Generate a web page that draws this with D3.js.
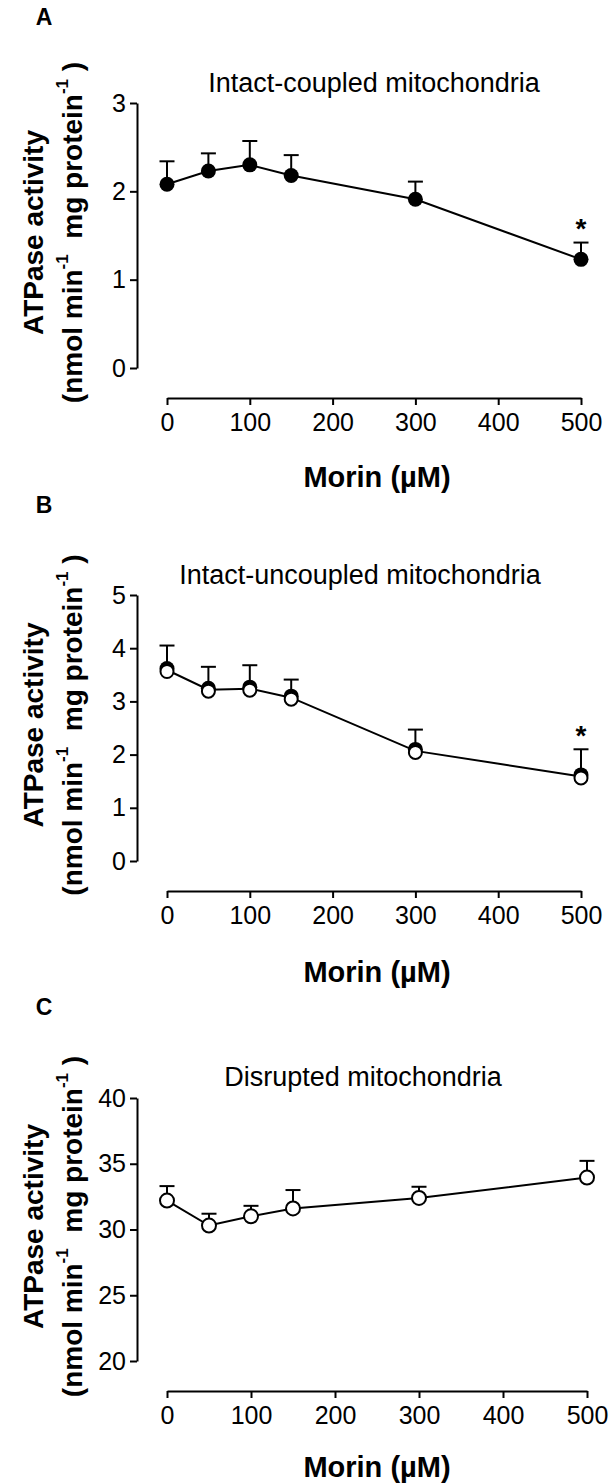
<!DOCTYPE html>
<html lang="en">
<head>
<meta charset="utf-8">
<title>Morin ATPase activity</title>
<script src="https://d3js.org/d3.v7.min.js"></script>
<style>
  body { margin: 0; background: #fff; }
  svg text { font-family: "Liberation Sans", Arial, sans-serif; fill: #000; }
</style>
</head>
<body>
<script>
// Morin concentrations (µM)
var doses = [0, 50, 100, 150, 300, 500];
var xTicks = [0, 100, 200, 300, 400, 500];

// A: intact-coupled
var coupledMean = [2.08, 2.23, 2.30, 2.18, 1.91, 1.23];
var coupledSem  = [0.26, 0.20, 0.27, 0.23, 0.20, 0.19];
var coupledStar = [false, false, false, false, false, true];
var yTicksA = [0, 1, 2, 3];

// B: intact-uncoupled
var uncoupledMean = [3.59, 3.22, 3.24, 3.07, 2.07, 1.59];
var uncoupledSem  = [0.46, 0.43, 0.44, 0.34, 0.40, 0.51];
var uncoupledStar = [false, false, false, false, false, true];
var yTicksB = [0, 1, 2, 3, 4, 5];

// C: disrupted
var disruptedMean = [32.2, 30.3, 31.0, 31.6, 32.4, 33.95];
var disruptedSem  = [1.1, 0.9, 0.8, 1.4, 0.85, 1.27];
var disruptedStar = [false, false, false, false, false, false];
var yTicksC = [20, 25, 30, 35, 40];

var svg = d3.select("body").append("svg")
    .attr("width", 610)
    .attr("height", 1484);

function drawPanel(p) {
    var x = d3.scaleLinear().domain([0, 500]).range([167, p.xRight]);
    var y = d3.scaleLinear().domain(p.yDomain).range(p.yRange);
    var g = svg.append("g");

    // panel letter
    g.append("text").attr("x", 44).attr("y", p.letterY)
        .attr("text-anchor", "middle").attr("dominant-baseline", "central")
        .style("font-size", "23px").style("font-weight", "bold")
        .text(p.letter);

    // title
    g.append("text").attr("x", p.titleX).attr("y", p.titleY)
        .attr("text-anchor", "middle").attr("dominant-baseline", "central")
        .style("font-size", "27px")
        .text(p.title);

    // axes
    var ya = g.append("g").attr("transform", "translate(137,0)")
        .call(d3.axisLeft(y).tickValues(p.yTicks).tickFormat(d3.format("d"))
            .tickSize(7).tickSizeOuter(0).tickPadding(4));
    var xa = g.append("g").attr("transform", "translate(0," + p.xAxisY + ")")
        .call(d3.axisBottom(x).tickValues(xTicks).tickFormat(d3.format("d"))
            .tickSize(7).tickSizeOuter(0).tickPadding(8));
    [ya, xa].forEach(function(a) {
        a.select(".domain").attr("stroke", "#000").attr("stroke-width", 2);
        a.selectAll(".tick line").attr("stroke", "#000").attr("stroke-width", 2);
        a.selectAll(".tick text").style("font-size", "25px")
            .style("font-family", "'Liberation Sans', Arial, sans-serif");
    });

    // axis titles
    g.append("text").attr("x", 377).attr("y", p.xTitleY)
        .attr("text-anchor", "middle").attr("dominant-baseline", "central")
        .style("font-size", "29px").style("font-weight", "bold")
        .text("Morin (\u00b5M)");

    var cy = (p.yRange[0] + p.yRange[1]) / 2 - 3;
    g.append("text")
        .attr("transform", "translate(33," + cy + ") rotate(-90)")
        .attr("text-anchor", "middle").attr("dominant-baseline", "central")
        .style("font-size", "28px").style("font-weight", "bold")
        .text("ATPase activity");
    var t2 = g.append("text")
        .attr("transform", "translate(72," + cy + ") rotate(-90)")
        .attr("text-anchor", "middle").attr("dominant-baseline", "central")
        .style("font-size", "28px").style("font-weight", "bold");
    t2.append("tspan").text("(nmol min");
    t2.append("tspan").attr("baseline-shift", "super").style("font-size", "17px").text("-1");
    t2.append("tspan").text("\u00a0 mg protein");
    t2.append("tspan").attr("baseline-shift", "super").style("font-size", "17px").text("-1");
    t2.append("tspan").text("\u00a0)");

    var pts = doses.map(function(d, i) {
        return {x: d, m: p.mean[i], s: p.sem[i], star: p.star[i]};
    });

    // error bars (upper only)
    var eb = g.append("g").attr("stroke", "#000").attr("stroke-width", 2);
    eb.selectAll(".v").data(pts).enter().append("line")
        .attr("x1", function(d) { return x(d.x); })
        .attr("x2", function(d) { return x(d.x); })
        .attr("y1", function(d) { return y(d.m); })
        .attr("y2", function(d) { return y(d.m + d.s); });
    eb.selectAll(".c").data(pts).enter().append("line")
        .attr("x1", function(d) { return x(d.x) - 7.5; })
        .attr("x2", function(d) { return x(d.x) + 7.5; })
        .attr("y1", function(d) { return y(d.m + d.s); })
        .attr("y2", function(d) { return y(d.m + d.s); });

    // connecting line
    g.append("path").datum(pts)
        .attr("fill", "none").attr("stroke", "#000").attr("stroke-width", 2)
        .attr("d", d3.line().x(function(d) { return x(d.x); }).y(function(d) { return y(d.m); }));

    // markers
    if (p.marker === "filled") {
        g.selectAll(".m").data(pts).enter().append("circle")
            .attr("cx", function(d) { return x(d.x); })
            .attr("cy", function(d) { return y(d.m); })
            .attr("r", 7.5).attr("fill", "#000");
    } else if (p.marker === "open") {
        g.selectAll(".m").data(pts).enter().append("circle")
            .attr("cx", function(d) { return x(d.x); })
            .attr("cy", function(d) { return y(d.m); })
            .attr("r", 7).attr("fill", "#fff").attr("stroke", "#000").attr("stroke-width", 2);
    } else {
        // filled symbol partly covered by an open one
        g.selectAll(".mf").data(pts).enter().append("circle")
            .attr("cx", function(d) { return x(d.x); })
            .attr("cy", function(d) { return y(d.m) - 1.5; })
            .attr("r", 7.5).attr("fill", "#000");
        g.selectAll(".mo").data(pts).enter().append("circle")
            .attr("cx", function(d) { return x(d.x); })
            .attr("cy", function(d) { return y(d.m) + 1.5; })
            .attr("r", 6.5).attr("fill", "#fff").attr("stroke", "#000").attr("stroke-width", 2);
    }

    // significance stars
    g.selectAll(".star").data(pts.filter(function(d) { return d.star; })).enter().append("text")
        .attr("x", function(d) { return x(d.x); })
        .attr("y", function(d) { return y(d.m + d.s) - 14; })
        .attr("text-anchor", "middle").attr("dominant-baseline", "central")
        .style("font-size", "28px").style("font-weight", "bold")
        .text("*");
}

drawPanel({letter: "A", letterY: 17, title: "Intact-coupled mitochondria", titleX: 374, titleY: 83,
    yDomain: [0, 3], yRange: [368, 103], yTicks: yTicksA, xRight: 581, xAxisY: 398, xTitleY: 477,
    mean: coupledMean, sem: coupledSem, star: coupledStar, marker: "filled"});

drawPanel({letter: "B", letterY: 505, title: "Intact-uncoupled mitochondria", titleX: 360, titleY: 575,
    yDomain: [0, 5], yRange: [861, 595], yTicks: yTicksB, xRight: 581, xAxisY: 891, xTitleY: 972,
    mean: uncoupledMean, sem: uncoupledSem, star: uncoupledStar, marker: "half"});

drawPanel({letter: "C", letterY: 1007, title: "Disrupted mitochondria", titleX: 363, titleY: 1077,
    yDomain: [20, 40], yRange: [1361, 1098], yTicks: yTicksC, xRight: 587, xAxisY: 1391, xTitleY: 1467,
    mean: disruptedMean, sem: disruptedSem, star: disruptedStar, marker: "open"});
</script>
</body>
</html>
